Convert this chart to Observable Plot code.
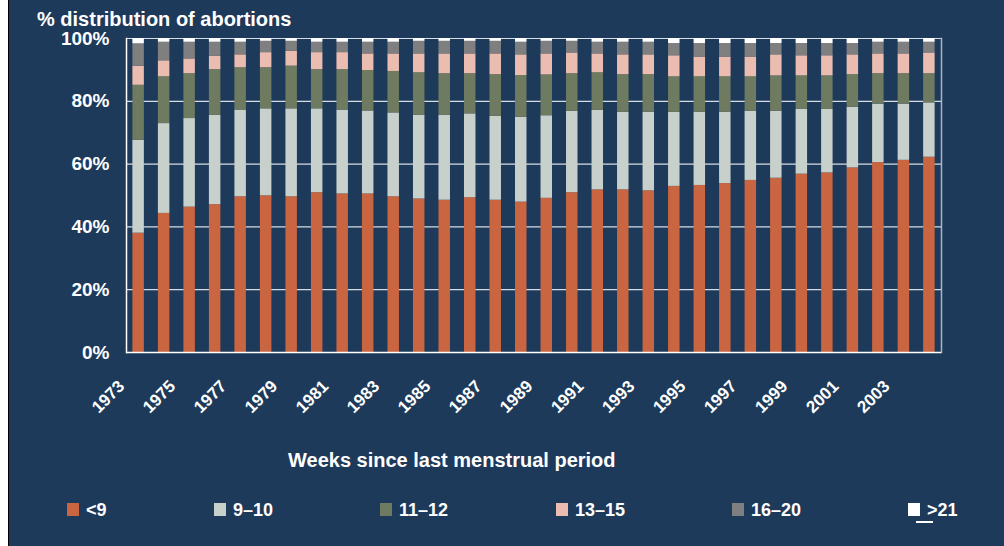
<!DOCTYPE html>
<html><head><meta charset="utf-8">
<script src="https://cdn.jsdelivr.net/npm/d3@7"></script>
<script src="https://cdn.jsdelivr.net/npm/@observablehq/plot@0.6"></script>
<style>
html,body{margin:0;padding:0;background:#fff;}
#page{position:relative;width:1004px;height:546px;overflow:hidden;font-family:"Liberation Sans",Arial,sans-serif;font-weight:bold;color:#fff;}
#bg{position:absolute;left:8px;top:0;width:996px;height:546px;background:#1e3a5a;border-left:1px solid #000;box-sizing:border-box;}
#chart{position:absolute;left:0;top:0;}
.t{position:absolute;line-height:1;white-space:nowrap;}
.sw{position:absolute;width:12px;height:13px;}
</style></head>
<body><div id="page"><div id="bg"></div><div id="chart"></div>
<div class="t" style="left:37px;top:11.5px;font-size:20px;line-height:14px">% distribution of abortions</div>
<div class="t" style="left:288px;top:450px;font-size:20px">Weeks since last menstrual period</div>
<div id="legend"></div>
</div>
<script>
const years = [1973,1974,1975,1976,1977,1978,1979,1980,1981,1982,1983,1984,1985,1986,1987,1988,
               1989,1990,1991,1992,1993,1994,1995,1996,1997,1998,1999,2000,2001,2002,2003,2004];
const labelYears = [1973,1975,1977,1979,1981,1983,1985,1987,1989,1991,1993,1995,1997,1999,2001,2003];
const categories = ["<9","9–10","11–12","13–15","16–20",">21"];
const colors = ["#c96541","#c8d0cb","#6f7b60","#ebbdb0","#7f7f7f","#ffffff"];
const yTicks = [0,20,40,60,80,100];

const lt9    = [38.0,44.3,46.3,47.1,49.6,49.9,49.6,50.9,50.5,50.5,49.6,48.9,48.5,49.3,48.5,47.9,
                49.1,50.9,51.8,51.8,51.5,52.9,53.2,53.8,54.8,55.5,56.8,57.2,58.8,60.5,61.2,62.2];
const w9_10  = [29.6,28.6,28.2,28.4,27.6,27.7,28.0,26.7,26.7,26.4,26.7,26.6,27.0,26.7,26.7,27.0,
                26.3,25.9,25.3,24.7,25.0,23.6,23.3,22.7,22.0,21.3,20.6,20.2,19.3,18.6,17.9,17.3];
const w11_12 = [17.5,14.9,14.3,14.6,13.5,13.1,13.6,12.5,12.9,12.9,13.2,13.6,13.3,12.8,13.3,13.3,
                13.0,12.0,12.0,12.0,12.0,11.3,11.3,11.3,11.0,11.3,10.7,10.7,10.4,9.7,9.7,9.3];
const w13_15 = [6.1,5.1,4.7,4.2,4.1,4.8,4.7,5.4,5.4,5.3,5.6,6.0,6.3,6.3,6.6,6.6,
                6.7,6.6,6.0,6.3,6.3,6.7,6.3,6.3,6.3,6.7,6.4,6.4,6.3,6.3,6.3,6.6];
const w16_20 = [7.1,5.9,5.3,4.5,4.0,3.6,3.2,3.3,3.3,3.7,3.7,4.0,4.0,4.0,4.0,4.0,
                4.0,3.7,3.7,4.0,4.0,3.9,4.3,4.3,4.3,3.6,3.9,3.9,3.6,3.7,3.7,3.4];
const ge21   = [1.7,1.2,1.2,1.2,1.2,0.9,0.9,1.2,1.2,1.2,1.2,0.9,0.9,0.9,0.9,1.2,
                0.9,0.9,1.2,1.2,1.2,1.6,1.6,1.6,1.6,1.6,1.6,1.6,1.6,1.2,1.2,1.2];

const series = [lt9, w9_10, w11_12, w13_15, w16_20, ge21];
const rows = years.flatMap((yr, i) => categories.map((c, k) => ({year: yr, category: c, value: series[k][i]})));

const chart = Plot.plot({
  width: 1004, height: 440,
  marginLeft: 126, marginRight: 63, marginTop: 38, marginBottom: 88,
  style: {background: "transparent", color: "#fff", fontFamily: "'Liberation Sans', Arial, sans-serif", fontWeight: "bold", overflow: "visible"},
  x: {type: "band", domain: years, paddingInner: 0.55, paddingOuter: 0.25, round: false},
  y: {domain: [0, 100]},
  color: {domain: categories, range: colors},
  marks: [
    Plot.ruleY(yTicks.slice(1), {stroke: "#d6dde5", strokeWidth: 1.2}),
    Plot.barY(rows, {x: "year", y: "value", fill: "category"}),
    Plot.frame({anchor: "right", stroke: "#a9b5c3", strokeWidth: 1.5}),
    Plot.frame({anchor: "left", stroke: "#ffffff", strokeWidth: 1.5}),
    Plot.ruleY([0], {stroke: "#ffffff", strokeWidth: 1.5}),
    Plot.axisY({ticks: yTicks, tickFormat: d => d + "%", tickSize: 0, tickPadding: 17, fontSize: 19, label: null}),
    Plot.axisX({ticks: labelYears, tickFormat: d => String(d), tickRotate: -45, tickSize: 0, tickPadding: 31, dx: -17, fontSize: 17, label: null})
  ]
});
document.getElementById("chart").appendChild(chart);

const legendX = [67, 214, 380, 556, 732, 908];
const legend = document.getElementById("legend");
categories.forEach((c, k) => {
  const sw = document.createElement("div");
  sw.className = "sw";
  sw.style.left = legendX[k] + "px";
  sw.style.top = "503px";
  sw.style.background = colors[k];
  legend.appendChild(sw);
  const t = document.createElement("div");
  t.className = "t";
  t.style.left = (legendX[k] + 19) + "px";
  t.style.top = "501px";
  t.style.fontSize = "18px";
  t.textContent = c;
  legend.appendChild(t);
});
const ul = document.createElement("div");
ul.style.cssText = "position:absolute;left:916px;top:521px;width:17px;height:2px;background:#fff;";
legend.appendChild(ul);
</script>
</body></html>
